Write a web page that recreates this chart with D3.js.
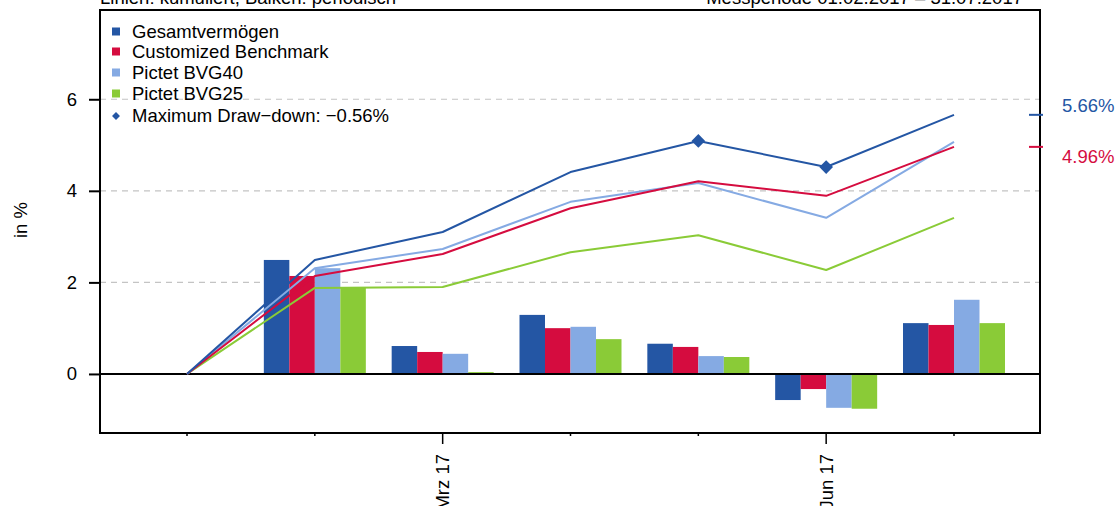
<!DOCTYPE html>
<html><head><meta charset="utf-8">
<script src="https://cdn.jsdelivr.net/npm/d3@7"></script>
<style>body{margin:0;background:#fff}svg{display:block;font-family:"Liberation Sans",Arial,sans-serif}</style>
</head><body><svg id="c" width="1116" height="506"></svg>
<script>
const months = ["Jan 17","Feb 17","Mrz 17","Apr 17","Mai 17","Jun 17","Jul 17"];
const barMonths = ["Feb 17","Mrz 17","Apr 17","Mai 17","Jun 17","Jul 17"];
const labelledMonths = ["Mrz 17","Jun 17"];
const seriesNames = ["Gesamtvermögen","Customized Benchmark","Pictet BVG40","Pictet BVG25"];
const seriesColors = ["#2456a4","#d50c3f","#85aae3","#8acb37"];
const barGesamt = [2.49,0.61,1.29,0.66,-0.57,1.11];
const barBench  = [2.14,0.48,1.00,0.59,-0.33,1.07];
const barBVG40  = [2.31,0.44,1.03,0.39,-0.74,1.62];
const barBVG25  = [1.88,0.04,0.76,0.37,-0.76,1.11];
const lineGesamt = [0,2.49,3.10,4.41,5.09,4.52,5.66];
const lineBench  = [0,2.14,2.62,3.62,4.21,3.89,4.96];
const lineBVG40  = [0,2.31,2.73,3.76,4.17,3.41,5.07];
const lineBVG25  = [0,1.88,1.90,2.66,3.03,2.27,3.41];
const drawdownMonths = ["Mai 17","Jun 17"];
const drawdownLabel = "Maximum Draw\u2212down: \u22120.56%";
const yTicks = [0,2,4,6];
const endLabels = ["5.66%","4.96%"];
const titleLeft = "Linien: kumuliert, Balken: periodisch";
const titleRight = "Messperiode 01.02.2017 \u2013 31.07.2017";

const bars = [barGesamt,barBench,barBVG40,barBVG25];
const lines = [lineGesamt,lineBench,lineBVG40,lineBVG25];
const FS = 18.5;

const svg = d3.select("#c");
const L=100,R=1040,T=10,B=433;
const y = d3.scaleLinear().domain([-1.29,7.95]).range([B,T]);
const x = d3.scalePoint().domain(months).range([187,954]);
const xb = d3.scaleBand().domain(d3.range(4)).range([-51,51]).padding(0);

// titles
svg.append("text").attr("x",L).attr("y",4).attr("font-size",FS).text(titleLeft);
svg.append("text").attr("x",1023).attr("y",4).attr("font-size",FS).attr("text-anchor","end").text(titleRight);

// grid
svg.append("g").selectAll("line").data(yTicks.filter(d=>d!==0)).join("line")
  .attr("x1",L).attr("x2",R).attr("y1",d=>y(d)).attr("y2",d=>y(d))
  .attr("stroke","#c4c4c4").attr("stroke-width",1.2).attr("stroke-dasharray","6,5");

// bars
const bg = svg.append("g");
bars.forEach((arr,si)=>{
  bg.selectAll(null).data(arr).join("rect")
    .attr("x",(d,i)=>x(barMonths[i])+xb(si))
    .attr("width",xb.bandwidth())
    .attr("y",d=>y(Math.max(0,d)))
    .attr("height",d=>Math.abs(y(d)-y(0)))
    .attr("fill",seriesColors[si]);
});

// zero line
svg.append("line").attr("x1",L).attr("x2",R).attr("y1",y(0)).attr("y2",y(0)).attr("stroke","#000").attr("stroke-width",2);

// lines
const lg = d3.line().x((d,i)=>x(months[i])).y(d=>y(d));
[3,2,1,0].forEach(si=>{
  svg.append("path").attr("d",lg(lines[si])).attr("fill","none")
    .attr("stroke",seriesColors[si]).attr("stroke-width",2).attr("stroke-linejoin","round");
});

// drawdown diamonds
const diamond = d3.symbol().type(d3.symbolDiamond2).size(120);
svg.append("g").selectAll("path").data(drawdownMonths).join("path")
  .attr("transform",m=>`translate(${x(m)},${y(lineGesamt[months.indexOf(m)])})`)
  .attr("d",diamond).attr("fill",seriesColors[0]);

// frame
svg.append("rect").attr("x",L).attr("y",T).attr("width",R-L).attr("height",B-T)
  .attr("fill","none").attr("stroke","#000").attr("stroke-width",2);

// y axis
const ya = svg.append("g").attr("transform",`translate(${L},0)`)
  .call(d3.axisLeft(y).tickValues(yTicks).tickSize(11).tickPadding(12).tickFormat(d3.format("d")));
ya.select(".domain").remove();
ya.selectAll("line").attr("stroke","#000").attr("stroke-width",2);
ya.selectAll("text").attr("font-size",FS).attr("fill","#000").attr("font-family","Liberation Sans, Arial, sans-serif");

svg.append("text").attr("transform",`translate(27,220) rotate(-90)`)
  .attr("text-anchor","middle").attr("font-size",FS).text("in %");

// x axis
const xa = svg.append("g").attr("transform",`translate(0,${B})`);
xa.selectAll("line").data(months).join("line")
  .attr("x1",d=>x(d)).attr("x2",d=>x(d)).attr("y1",0)
  .attr("y2",d=>labelledMonths.includes(d)?11:3)
  .attr("stroke","#000").attr("stroke-width",1.5);
xa.selectAll("text").data(labelledMonths).join("text")
  .attr("transform",d=>`translate(${x(d)+6.5},${21}) rotate(-90)`)
  .attr("text-anchor","end").attr("font-size",FS).text(d=>d);

// end labels
const endVals = [lineGesamt[6], lineBench[6]];
const endLabelY = [106, 157];
endVals.forEach((v,i)=>{
  svg.append("line").attr("x1",1029).attr("x2",1043).attr("y1",y(v)).attr("y2",y(v))
    .attr("stroke",seriesColors[i]).attr("stroke-width",2);
  svg.append("text").attr("x",1062).attr("y",endLabelY[i]).attr("dy","0.35em")
    .attr("font-size",FS).attr("fill",seriesColors[i]).text(endLabels[i]);
});

// legend
const leg = svg.append("g").attr("transform","translate(112,0)");
const legY = [32,52,73,94,116];
seriesNames.forEach((n,i)=>{
  leg.append("rect").attr("x",0).attr("y",legY[i]-4.5).attr("width",8).attr("height",8).attr("fill",seriesColors[i]);
  leg.append("text").attr("x",20).attr("y",legY[i]).attr("dy","0.35em").attr("font-size",FS).text(n);
});
leg.append("path").attr("transform",`translate(4,${legY[4]})`).attr("d",d3.symbol().type(d3.symbolDiamond2).size(40)).attr("fill",seriesColors[0]);
leg.append("text").attr("x",20).attr("y",legY[4]).attr("dy","0.35em").attr("font-size",FS).text(drawdownLabel);
</script></body></html>
